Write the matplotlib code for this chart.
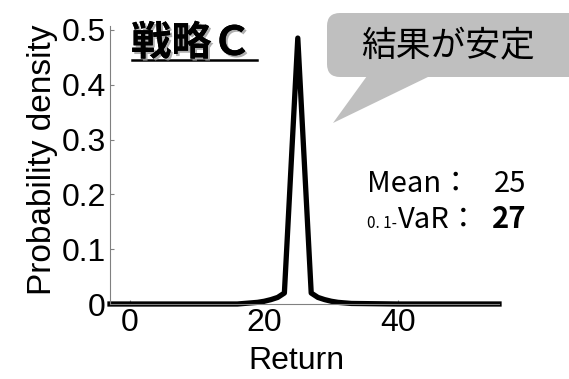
import matplotlib
matplotlib.use('Agg')
import matplotlib.pyplot as plt
import matplotlib.patheffects as pe
from matplotlib.patches import FancyBboxPatch, Polygon

# density of strategy C
returns = [-3, 0, 10, 16, 17, 18, 19, 20, 21, 22, 23, 25, 27, 28, 29, 30, 31, 32, 33, 40, 50, 55]
density = [0, 0, 0, 0, 0.001, 0.002, 0.003, 0.005, 0.008, 0.012, 0.02, 0.485,
           0.02, 0.012, 0.008, 0.005, 0.003, 0.002, 0.001, 0, 0, 0]
xticks = [0, 20, 40]
yticks = [0, 0.1, 0.2, 0.3, 0.4, 0.5]
ytick_labels = ['0', '0.1', '0.2', '0.3', '0.4', '0.5']
title = '戦略Ｃ'
bubble_text = '結果が安定'
mean_value = 25
var_value = 27

W, H = 569, 379
fig = plt.figure(figsize=(W / 100, H / 100), dpi=100)

# axes placed in pixel terms (top-left origin)
ax_l, ax_r, ax_t, ax_b = 110, 499, 26, 304
ax = fig.add_axes([ax_l / W, 1 - ax_b / H, (ax_r - ax_l) / W, (ax_b - ax_t) / H])
ax.plot(returns, density, color='black', lw=3.8, solid_joinstyle='round', clip_on=False)
ax.set_xlim(-3, 55)
ax.set_ylim(0, 0.507)
ax.set_xticks(xticks)
ax.set_yticks(yticks)
ax.set_yticklabels(ytick_labels)
for s in ['top', 'right']:
    ax.spines[s].set_visible(False)
for s in ['left', 'bottom']:
    ax.spines[s].set_color('#808080')
    ax.spines[s].set_linewidth(0.8)
ax.tick_params(direction='in', length=3, width=0.8, color='#808080',
               labelsize=23, pad=3)
for lab in ax.get_xticklabels() + ax.get_yticklabels():
    lab.set_family('Liberation Sans')

ax.set_xlabel('Return', fontsize=23, family='Liberation Sans')
ax.xaxis.set_label_coords((296 - ax_l) / (ax_r - ax_l), (ax_b - 346) / (ax_b - ax_t))
ax.set_ylabel('Probability density', fontsize=24, family='Liberation Sans')
ax.yaxis.set_label_coords((58 - ax_l) / (ax_r - ax_l), (ax_b - 160) / (ax_b - ax_t))

# overlay in pixel coords for annotations
ov = fig.add_axes([0, 0, 1, 1], facecolor='none')
ov.set_xlim(0, W)
ov.set_ylim(H, 0)
ov.axis('off')

jp = ['Noto Sans CJK JP', 'DejaVu Sans']

# title with shadow and underline
ov.text(131, 55, title, fontsize=29, fontweight='bold', family=jp, ha='left', va='baseline',
        path_effects=[pe.withSimplePatchShadow(offset=(1.5, -1.5), shadow_rgbFace='#9a9a9a', alpha=0.8),
                      pe.Normal()])
ov.plot([132, 257], [60, 60], color='black', lw=1.8)

# speech bubble
bubble = FancyBboxPatch((327, 13), 270, 64, boxstyle='round,pad=0,rounding_size=13',
                        fc='#bfbfbf', ec='none')
ov.add_patch(bubble)
ov.add_patch(Polygon([(367, 76), (430, 76), (333, 123)], closed=True, fc='#bfbfbf', ec='none'))
ov.text(448, 47, bubble_text, fontsize=25, family=jp, ha='center', va='center')

# statistics
ov.text(367, 192, 'Mean：', fontsize=21, family=jp, ha='left', va='baseline')
ov.text(526, 192, str(mean_value), fontsize=21, family=jp, ha='right', va='baseline')
ov.text(367, 228, '0. 1-', fontsize=11, family=jp, ha='left', va='baseline')
ov.text(398, 228, 'VaR：', fontsize=21, family=jp, ha='left', va='baseline')
ov.text(526, 228, str(var_value), fontsize=21, family=jp, fontweight='bold', ha='right', va='baseline')

fig.savefig('out.png', dpi=100)
